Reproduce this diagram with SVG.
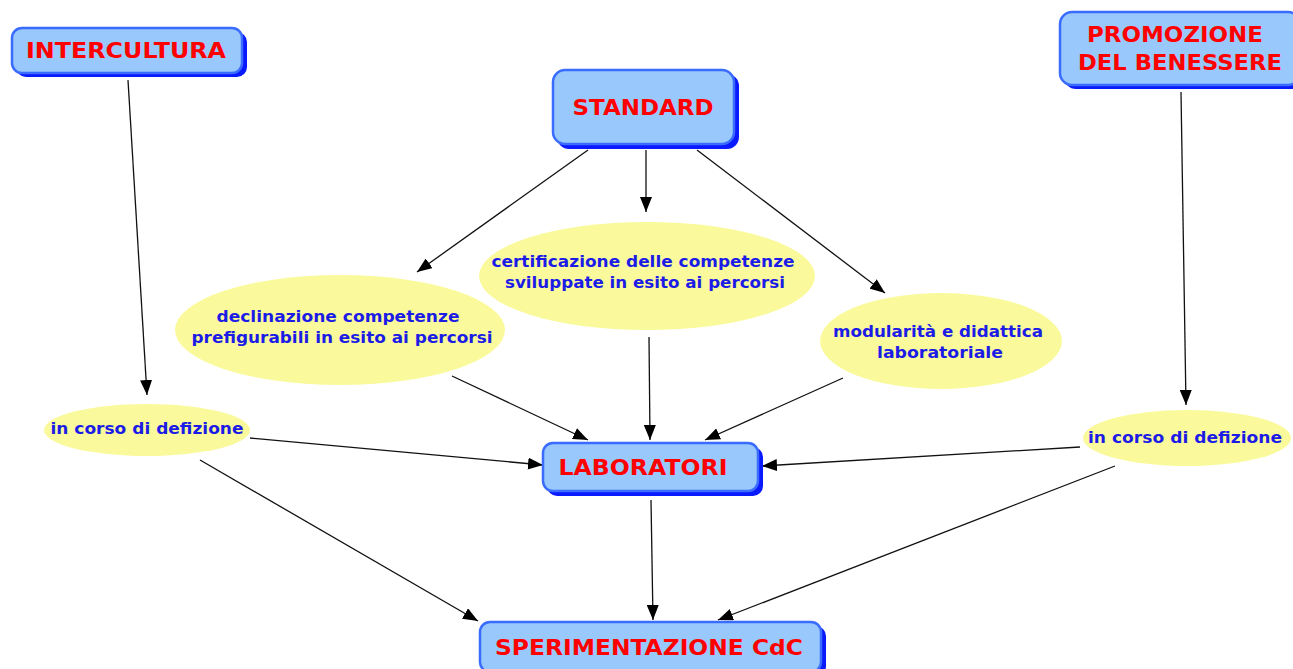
<svg xmlns="http://www.w3.org/2000/svg" width="1293" height="669" viewBox="0 0 1293 669">
<style>
.shadow{fill:#0a1aff}
.box{fill:#99c8fc;stroke:#3a6cff;stroke-width:2.5}
.ell{fill:#fafa9c}
.lbl{font-family:"DejaVu Sans",Verdana,sans-serif;font-weight:bold;font-size:21px;fill:#ff0000;text-anchor:middle}
.et{font-family:"DejaVu Sans",Verdana,sans-serif;font-weight:bold;font-size:16px;fill:#1c1ce6;text-anchor:middle}
.c line{stroke:#111;stroke-width:1.3;marker-end:url(#ah)}
</style>
<defs>
<marker id="ah" viewBox="0 0 15 12" refX="15" refY="6" markerWidth="15" markerHeight="12" markerUnits="userSpaceOnUse" orient="auto">
<path d="M0,0 L15,6 L0,12 z" fill="#000"/>
</marker>
</defs>
<rect width="1293" height="669" fill="#fff"/>
<g class="c" id="connectors">
<line x1="128" y1="80" x2="147" y2="395"/>
<line x1="588" y1="150" x2="417" y2="272"/>
<line x1="646" y1="150" x2="646" y2="212"/>
<line x1="697" y1="150" x2="885" y2="293"/>
<line x1="1181" y1="92" x2="1186" y2="405"/>
<line x1="452" y1="376" x2="588" y2="440"/>
<line x1="649" y1="337" x2="650" y2="440"/>
<line x1="843" y1="378" x2="705" y2="440"/>
<line x1="250" y1="438" x2="543" y2="465"/>
<line x1="1080" y1="447" x2="762" y2="466"/>
<line x1="200" y1="460" x2="478" y2="621"/>
<line x1="651" y1="500" x2="653" y2="620"/>
<line x1="1115" y1="466" x2="718" y2="620"/>
</g>
<g id="intercultura">
<rect class="shadow" x="16" y="32" width="231" height="45" rx="10"/>
<rect class="box" x="12" y="28" width="230" height="45" rx="10"/>
<text class="lbl" x="126" y="58" textLength="200" lengthAdjust="spacingAndGlyphs">INTERCULTURA</text>
</g>
<g id="standard">
<rect class="shadow" x="557" y="74" width="182" height="75" rx="12"/>
<rect class="box" x="553" y="70" width="181" height="74" rx="12"/>
<text class="lbl" x="643" y="115" textLength="141" lengthAdjust="spacingAndGlyphs">STANDARD</text>
</g>
<g id="promozione">
<rect class="shadow" x="1064" y="16" width="240" height="73" rx="12"/>
<rect class="box" x="1060" y="12" width="240" height="73" rx="12"/>
<text class="lbl" x="1175" y="42" textLength="176" lengthAdjust="spacingAndGlyphs">PROMOZIONE</text>
<text class="lbl" x="1180" y="70" textLength="204" lengthAdjust="spacingAndGlyphs">DEL BENESSERE</text>
</g>
<g id="laboratori">
<rect class="shadow" x="547" y="447" width="216" height="49" rx="10"/>
<rect class="box" x="543" y="443" width="215" height="48" rx="10"/>
<text class="lbl" x="643" y="475" textLength="169" lengthAdjust="spacingAndGlyphs">LABORATORI</text>
</g>
<g id="sperimentazione">
<rect class="shadow" x="484" y="626" width="342" height="50" rx="10"/>
<rect class="box" x="480" y="622" width="341" height="50" rx="10"/>
<text class="lbl" x="649" y="655" textLength="308" lengthAdjust="spacingAndGlyphs">SPERIMENTAZIONE CdC</text>
</g>
<g id="declinazione">
<ellipse class="ell" cx="340" cy="330" rx="165" ry="55"/>
<text class="et" x="338" y="322" textLength="243" lengthAdjust="spacingAndGlyphs">declinazione competenze</text>
<text class="et" x="342" y="343" textLength="301" lengthAdjust="spacingAndGlyphs">prefigurabili in esito ai percorsi</text>
</g>
<g id="certificazione">
<ellipse class="ell" cx="647" cy="276" rx="168" ry="54"/>
<text class="et" x="643" y="267" textLength="303" lengthAdjust="spacingAndGlyphs">certificazione delle competenze</text>
<text class="et" x="645" y="288" textLength="280" lengthAdjust="spacingAndGlyphs">sviluppate in esito ai percorsi</text>
</g>
<g id="modularita">
<ellipse class="ell" cx="941" cy="341" rx="121" ry="48"/>
<text class="et" x="938" y="337" textLength="210" lengthAdjust="spacingAndGlyphs">modularità e didattica</text>
<text class="et" x="940" y="358" textLength="126" lengthAdjust="spacingAndGlyphs">laboratoriale</text>
</g>
<g id="incorso1">
<ellipse class="ell" cx="147" cy="430" rx="103" ry="26"/>
<text class="et" x="147" y="434" textLength="193" lengthAdjust="spacingAndGlyphs">in corso di defizione</text>
</g>
<g id="incorso2">
<ellipse class="ell" cx="1187" cy="438" rx="104" ry="28"/>
<text class="et" x="1185" y="443" textLength="194" lengthAdjust="spacingAndGlyphs">in corso di defizione</text>
</g>
</svg>
